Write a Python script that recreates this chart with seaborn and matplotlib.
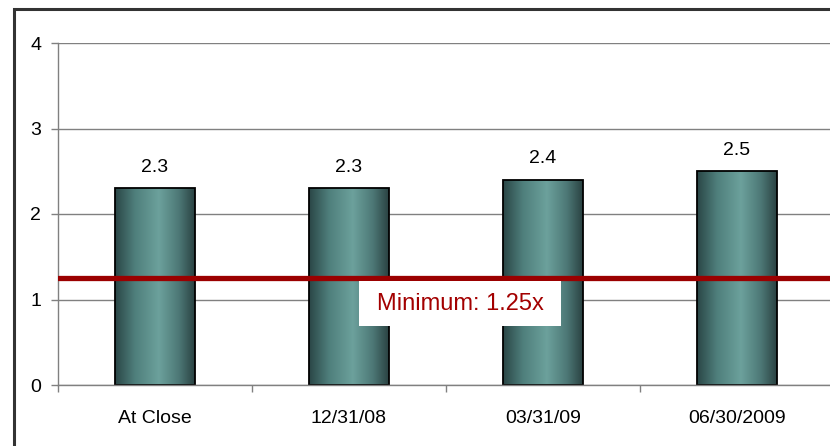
import numpy as np
import pandas as pd
import matplotlib
matplotlib.use("Agg")
import matplotlib.pyplot as plt
from matplotlib import font_manager
from matplotlib.colors import LinearSegmentedColormap
from matplotlib.patches import Rectangle
import seaborn as sns

# Coverage ratio by reporting date
categories = ["At Close", "12/31/08", "03/31/09", "06/30/2009"]
values = [2.3, 2.3, 2.4, 2.5]
minimum = 1.25
minimum_label = "Minimum: 1.25x"
y_ticks = [0, 1, 2, 3, 4]

sns.set_theme(style="white")
names = {f.name for f in font_manager.fontManager.ttflist}
family = [n for n in ["Liberation Sans Narrow", "Liberation Sans", "DejaVu Sans"] if n in names]
plt.rcParams["font.family"] = family

df = pd.DataFrame({"period": categories, "ratio": values})

fig = plt.figure(figsize=(8.30, 4.46), dpi=100)
fig.patch.set_facecolor("white")
ax = fig.add_axes([58 / 830, 61 / 446, 776 / 830, 342 / 446])

sns.barplot(data=df, x="period", y="ratio", ax=ax, width=0.41,
            facecolor="none", edgecolor="black", linewidth=1.3, zorder=2)

# horizontal shading for each column
shade = LinearSegmentedColormap.from_list(
    "shade", [(0.0, "#2a4646"), (0.25, "#4f7f7c"), (0.55, "#6ca19c"),
              (0.8, "#4d7876"), (1.0, "#2a4242")])
grad = np.linspace(0, 1, 256).reshape(1, -1)
for bar in ax.patches:
    x0, y0 = bar.get_x(), bar.get_y()
    w, h = bar.get_width(), bar.get_height()
    im = ax.imshow(grad, cmap=shade, aspect="auto", extent=(x0, x0 + w, y0, y0 + h),
                   zorder=1.5, interpolation="bilinear")
    im.set_clip_path(bar)

ax.set_xlim(-0.5, len(categories) - 0.5)
ax.set_ylim(0, 4)
ax.set_yticks(y_ticks)
ax.set_yticklabels([str(t) for t in y_ticks])
ax.set_xlabel("")
ax.set_ylabel("")

ax.set_axisbelow(True)
ax.yaxis.grid(True, color="#808080", linewidth=1.0)
ax.xaxis.grid(False)
for side in ["top", "right"]:
    ax.spines[side].set_visible(False)
for side in ["left", "bottom"]:
    ax.spines[side].set_color("#808080")
    ax.spines[side].set_linewidth(1.0)

# category ticks sit on the boundaries between columns
ax.set_xticks(np.arange(len(categories)), labels=categories)
ax.tick_params(axis="x", which="major", length=0, pad=18, labelsize=14, labelcolor="black")
ax.set_xticks(np.arange(len(categories) + 1) - 0.5, minor=True)
ax.tick_params(axis="x", which="minor", length=5, width=1, color="#808080", direction="out", bottom=True)
ax.tick_params(axis="y", length=5, width=1, color="#808080", direction="out", left=True,
               pad=7, labelsize=14, labelcolor="black")

for bar, v in zip(ax.patches, values):
    ax.annotate(f"{v:.1f}", (bar.get_x() + bar.get_width() / 2, v),
                xytext=(0, 9), textcoords="offset points",
                ha="center", va="bottom", fontsize=14, color="black")

ax.axhline(minimum, color="#9b0000", linewidth=3.8, zorder=3)

box_x0, box_x1 = 1.054, 2.095
box_top = minimum - 0.035
box_h = 0.53
ax.add_patch(Rectangle((box_x0, box_top - box_h), box_x1 - box_x0, box_h,
                       facecolor="white", edgecolor="none", zorder=4))
ax.text((box_x0 + box_x1) / 2, box_top - box_h / 2, minimum_label,
        ha="center", va="center", fontsize=17, color="#a30000", zorder=5)

# frame around the whole chart
fig.add_artist(Rectangle((14 / 830, -0.1), 1.2, 1 - 9 / 446 + 0.1,
                         transform=fig.transFigure, fill=False,
                         edgecolor="#333333", linewidth=2.2))

fig.savefig("out.png", dpi=100)
